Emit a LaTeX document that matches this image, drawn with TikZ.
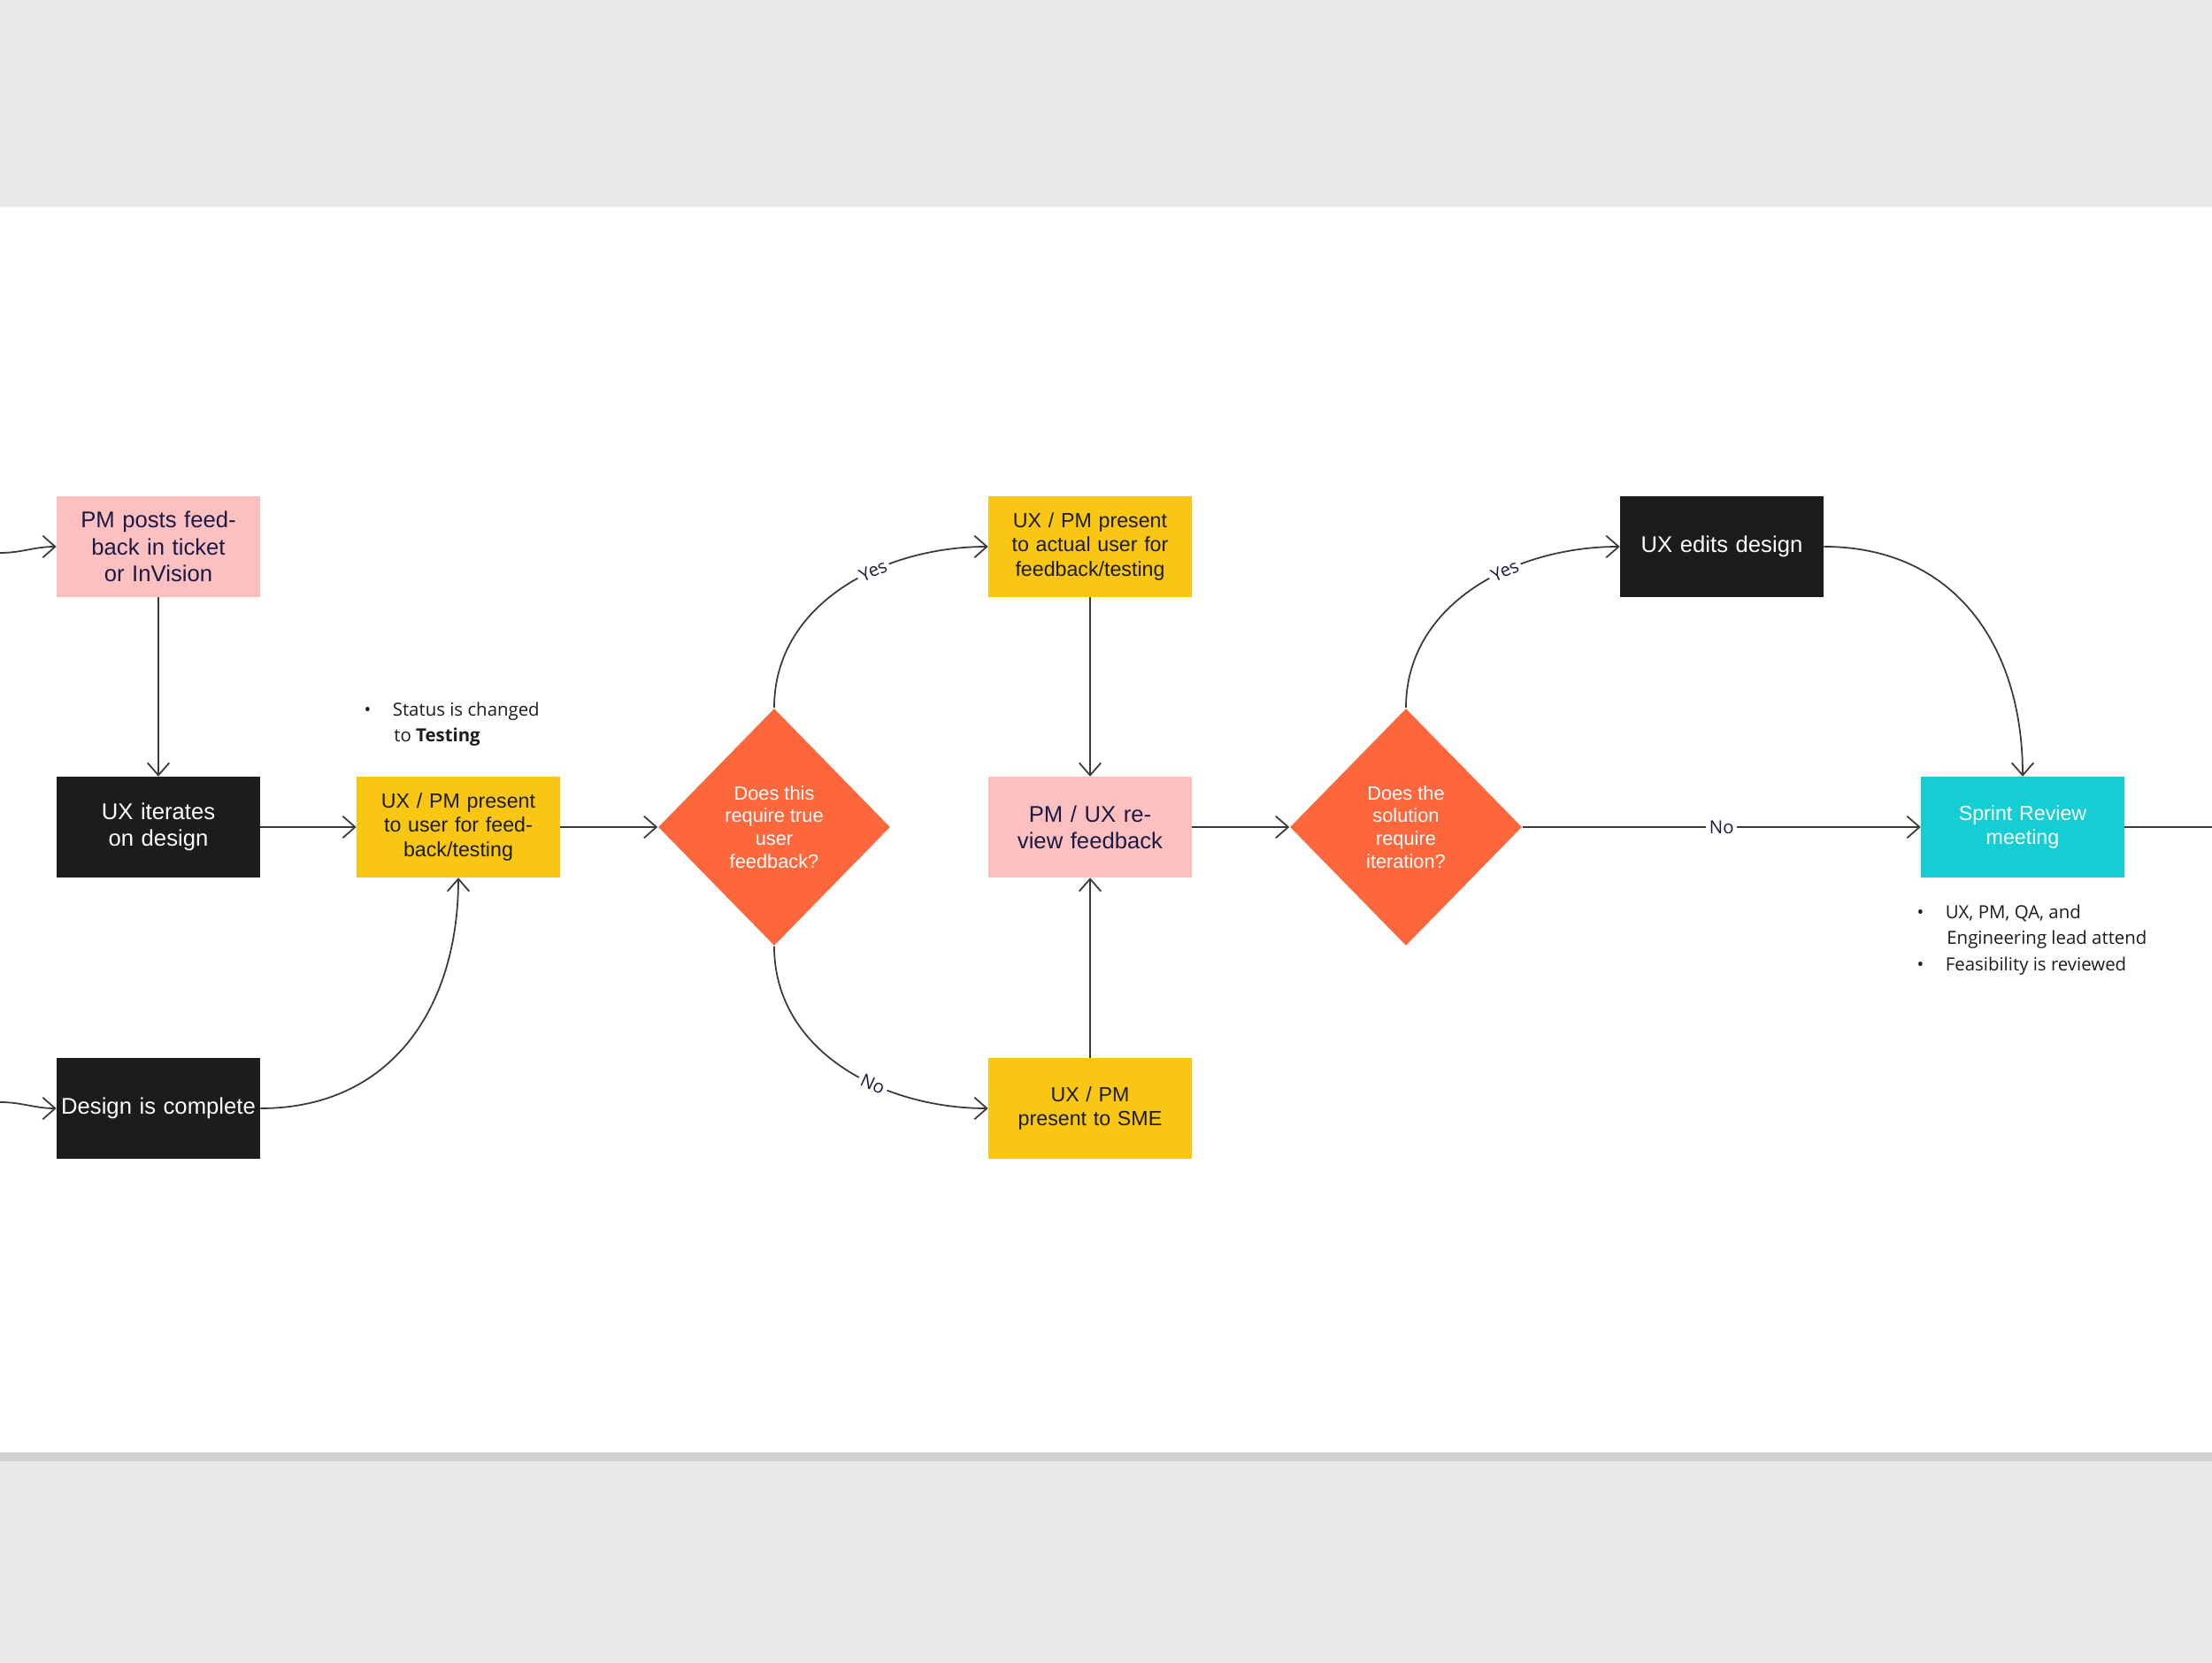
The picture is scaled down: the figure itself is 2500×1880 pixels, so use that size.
\documentclass[tikz,border=0pt]{standalone}
\usepackage{fontspec}
\setmainfont{Liberation Sans}
\newfontfamily\notefont{Open Sans}
\usetikzlibrary{arrows.meta,shapes.geometric,positioning}
\definecolor{bgGrey}{HTML}{E9E8EA}
\definecolor{boxPink}{HTML}{FDC0C0}
\definecolor{boxBlack}{HTML}{1C1C1C}
\definecolor{boxYellow}{HTML}{F8C613}
\definecolor{boxOrange}{HTML}{FE673B}
\definecolor{boxCyan}{HTML}{14CED4}
\definecolor{inkNavy}{HTML}{1B1A45}
\definecolor{lineGrey}{HTML}{3A3A3A}
\tikzset{
  card/.style={rectangle, minimum width=2.29cm, minimum height=1.13cm, inner sep=1pt,
    align=center, text width=2.2cm, font=\fontsize{7.3}{8.6}\selectfont},
  pinkcard/.style={card, fill=boxPink, text=inkNavy},
  darkcard/.style={card, fill=boxBlack, text=white},
  yellowcard/.style={card, fill=boxYellow, text=boxBlack, font=\fontsize{6.6}{7.8}\selectfont},
  cyancard/.style={card, fill=boxCyan, text=white, font=\fontsize{6.6}{7.8}\selectfont},
  decision/.style={diamond, fill=boxOrange, text=white, minimum width=2.62cm, minimum height=2.68cm,
    inner sep=0pt, aspect=1, align=center, font=\fontsize{6.2}{7.3}\selectfont},
  flow/.style={draw=lineGrey, line width=0.5pt, -{Straight Barb[length=4pt,width=7pt]}},
  answer/.style={fill=white, text=inkNavy, inner sep=1pt, font=\notefont\fontsize{5.8}{7}\selectfont},
  note/.style={align=left, anchor=north west, inner sep=0pt, text=boxBlack,
    font=\notefont\fontsize{5.8}{8.4}\selectfont}
}
\begin{document}
\begin{tikzpicture}[x=0.01cm,y=-0.01cm]
  % page
  \fill[bgGrey] (0,0) rectangle (2500,1880);
  \fill[black!18] (0,1642) rectangle (2500,1652);
  \fill[white] (0,234) rectangle (2500,1642);
  \useasboundingbox (0,0) rectangle (2500,1880);

  % boxes
  \node[pinkcard] (posts) at (179,618) {PM posts feedback in ticket or InVision};
  \node[darkcard] (iterate) at (179,935) {UX iterates on design};
  \node[darkcard] (complete) at (179,1253) {Design is complete};
  \node[yellowcard] (present) at (518,935) {UX / PM present to user for feedback/testing};
  \node[decision] (trueuser) at (875,935) {Does this\\require true\\user\\feedback?};
  \node[yellowcard] (actual) at (1232,618) {UX / PM present to actual user for feedback/testing};
  \node[pinkcard] (review) at (1232,935) {PM / UX review feedback};
  \node[yellowcard] (sme) at (1232,1253) {UX / PM present to SME};
  \node[decision] (iteration) at (1589,935) {Does the\\solution\\require\\iteration?};
  \node[darkcard] (edits) at (1946,618) {UX edits design};
  \node[cyancard] (sprint) at (2286,935) {Sprint Review\\meeting};

  \coordinate (inA) at (0,625);
  \coordinate (inB) at (0,1246);
  \coordinate (outA) at (2500,935);

  % notes
  \node[note] (statusnote) at (411,793) {\textbullet\hspace{1.2em}Status is changed\\\hspace*{1.65em}to \textbf{Testing}};
  \node[note] (sprintnote) at (2166,1022) {\textbullet\hspace{1.2em}UX, PM, QA, and\\\hspace*{1.65em}Engineering lead attend\\\textbullet\hspace{1.2em}Feasibility is reviewed};

  % connectors
  \draw[flow] (inA) to[out=0,in=180] (posts.west);
  \draw[flow] (inB) to[out=0,in=180] (complete.west);
  \draw[flow] (posts) -- (iterate);
  \draw[flow] (iterate) -- (present);
  \draw[flow] (complete.east) to[out=0,in=-90,looseness=1.1] (present.south);
  \draw[flow] (present) -- (trueuser);
  \draw[flow] (trueuser.north) to[out=90,in=180] node[answer,sloped,pos=0.62] {Yes} (actual.west);
  \draw[flow] (trueuser.south) to[out=-90,in=180] node[answer,sloped,pos=0.62] {No} (sme.west);
  \draw[flow] (actual) -- (review);
  \draw[flow] (sme) -- (review);
  \draw[flow] (review) -- (iteration);
  \draw[flow] (iteration.north) to[out=90,in=180] node[answer,sloped,pos=0.62] {Yes} (edits.west);
  \draw[flow] (iteration) -- node[answer,pos=0.5] {No} (sprint);
  \draw[flow] (edits.east) to[out=0,in=90,looseness=1.1] (sprint.north);
  \draw[draw=lineGrey, line width=0.5pt] (sprint) -- (outA);
\end{tikzpicture}
\end{document}
